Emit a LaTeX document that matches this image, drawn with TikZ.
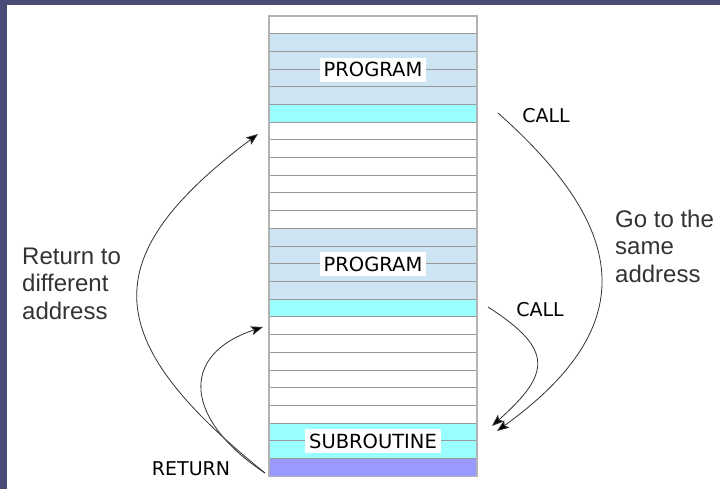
\documentclass[tikz,border=0pt]{standalone}
\usepackage{fontspec}
\setmainfont{Liberation Sans}
\newfontfamily\labfont{DejaVu Sans}
\usetikzlibrary{arrows.meta}
\definecolor{slide}{HTML}{4A4C78}
\definecolor{lblue}{HTML}{CDE4F2}
\definecolor{cyanrow}{HTML}{99FFFF}
\definecolor{purp}{HTML}{9999FF}
\definecolor{rowline}{HTML}{999999}
\definecolor{txtgray}{HTML}{333333}
\begin{document}
\begin{tikzpicture}[x=1pt,y=-1pt,
  memrow/.style={draw=rowline, line width=1pt, minimum width=208pt, minimum height=17.7pt, inner sep=0pt, outer sep=0pt},
  lab/.style={fill=white, inner xsep=4pt, inner ysep=0pt, minimum height=24pt, font=\labfont\fontsize{19.5}{21}\selectfont},
  plainlab/.style={font=\labfont\fontsize{19}{21}\selectfont, inner sep=0pt},
  big/.style={font=\fontsize{24}{27.5}\selectfont, text=txtgray, align=left, inner sep=0pt},
  arr/.style={draw=black!80, line width=0.8pt, -{Stealth[length=12pt,width=9pt,inset=2.5pt,fill=black]}}]
\useasboundingbox (0,0) rectangle (720,489);
\fill[slide] (0,0) rectangle (720,489);
\fill[white] (7,5) rectangle (720,489);
% memory rows
\foreach \i/\c in {0/white,1/lblue,2/lblue,3/lblue,4/lblue,5/cyanrow,
  6/white,7/white,8/white,9/white,10/white,11/white,
  12/lblue,13/lblue,14/lblue,15/lblue,16/cyanrow,
  17/white,18/white,19/white,20/white,21/white,22/white,
  23/cyanrow,24/cyanrow,25/purp}
  \node[memrow, fill=\c] (r\i) at (373, {16+(\i+0.5)*17.7}) {};
\draw[draw=black!30, line width=1.4pt] (r0.north west) rectangle (r25.south east);
% labels on the memory
\node[lab] (p1) at (373, 69.6) {PROGRAM};
\node[lab] (p2) at (373, 264.3) {PROGRAM};
\node[lab] (sub) at (373, 441.3) {SUBROUTINE};
% side labels
\node[plainlab] (call1) at (546,116) {CALL};
\node[plainlab] (call2) at (540,310) {CALL};
\node[plainlab] (ret) at (191,469) {RETURN};
\node[big, anchor=north west] (goto) at (615,209.5) {Go to the\\same\\address};
\node[big, anchor=north west] (retto) at (22,247.5) {Return to\\different\\address};
% arrow end points
\coordinate (retA) at (265,473);
\coordinate (tipA) at (258,134);
\coordinate (tipB) at (263,327);
\coordinate (callA) at (498,113);
\coordinate (callB) at (488,307);
\coordinate (tipC) at (497,431);
\coordinate (tipD) at (492,426);
\draw[arr] (retA) .. controls (100,340) and (93,258) .. (tipA);
\draw[arr] (retA) .. controls (185,420) and (178,355) .. (tipB);
\draw[arr] (callA) .. controls (630,230) and (641,327) .. (tipC);
\draw[arr] (callB) .. controls (555,350) and (550,374) .. (tipD);
\end{tikzpicture}
\end{document}
